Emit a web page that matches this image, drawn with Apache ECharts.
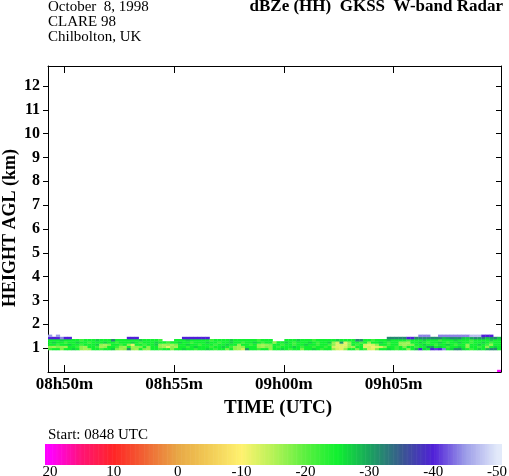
<!DOCTYPE html>
<html><head><meta charset="utf-8">
<script src="https://cdn.jsdelivr.net/npm/echarts@6/dist/echarts.min.js"></script>
<style>html,body{margin:0;padding:0;background:#fff}#c{width:509px;height:476px}</style>
</head><body><div id="c"></div>
<script>
const _ = null;
// time axis: minutes after 08:00 UTC
const timeStart = 49.25, timeEnd = 69.9, nCols = 115;
const gateKm = 0.092;
const rowHeights = [0.923, 1.015, 1.108, 1.200, 1.292, 1.385, 1.477];
const xTickValues = [50, 55, 60, 65];
const xTickLabels = ['08h50m', '08h55m', '09h00m', '09h05m'];
const yTickValues = [1, 2, 3, 4, 5, 6, 7, 8, 9, 10, 11, 12];
const cbarTicks = [20, 10, 0, -10, -20, -30, -40, -50];
const cmapValues = [-50, -45, -40, -35, -30, -25, -20, -15, -10, -5, 0, 5, 10, 15, 20];
const cmapColors = ['#e2eafa', '#9c9ce8', '#5020d8', '#3a5890', '#1aa45e', '#10f030', '#5af040', '#b4f256',
                    '#fff270', '#f2cc56', '#e8a846', '#f06634', '#ff2626', '#ff1474', '#ff00ff'];

// dBZe per row (bottom row first), one value per time column
const row0 = [-22,-25,-25,-18,-25,-25,-27,-25,-17,-16,
 -17,-25,-25,-22,-25,-25,-27,-18,-16,-17,
 -31,-17,-16,-25,-18,-17,-25,-25,-22,-25,
 -25,-18,-25,-25,-27,-25,-25,-22,-25,-25,
 -27,-25,-22,-25,-25,-18,-25,-17,-16,-13,
 -31,-25,-25,-22,-25,-25,-17,-25,-25,-27,
 -25,-22,-25,-25,-18,-25,-25,-27,-25,-22,
 -25,-25,-17,-13,-12,-17,-25,-25,-18,-25,
 -22,-13,-12,-18,-25,-25,-27,-25,-22,-25,
 -25,-17,-25,-29,-40,-27,-25,-40,-41,-40,
 -44,-25,-27,-32,-32,-27,-25,-22,-25,-27,
 -25,-29,-32,-32,-25];
const row1 = [-17,-16,-18,-17,-16,-25,-25,-22,-17,-16,
 -25,-25,-22,-16,-17,-25,-25,-22,-17,-16,
 -25,-16,-17,-18,-25,-17,-25,-25,-17,-16,
 -12,-17,-16,-25,-25,-22,-25,-27,-25,-25,
 -25,-22,-25,-25,-27,-25,-22,-17,-16,-17,
 -25,-25,-25,-17,-16,-18,-17,-25,-22,-25,
 -25,-25,-27,-25,-22,-25,-25,-22,-25,-25,
 -22,-25,-13,-12,-12,-13,-17,-16,-25,-25,
 -12,-13,-11,-12,-13,-17,-25,-25,-22,-25,
 -18,-25,-25,-22,-25,-25,-30,-31,-25,-27,
 -25,-22,-25,-25,-27,-25,-17,-25,-25,-22,
 -25,-17,-25,-27,-25];
const row2 = [-25,-25,-22,-25,-25,-27,-25,-25,-22,-25,
 -25,-25,-27,-17,-16,-18,-25,-25,-22,-25,
 -17,-12,-25,-25,-22,-25,-25,-27,-17,-16,
 -17,-16,-18,-25,-25,-27,-25,-25,-22,-25,
 -25,-25,-22,-25,-25,-27,-25,-25,-17,-25,
 -25,-22,-25,-17,-16,-17,-18,-25,-25,-22,
 -25,-25,-22,-25,-25,-27,-25,-25,-22,-25,
 -25,-22,-17,-12,-13,-12,-17,-25,-22,-25,
 -13,-12,-13,-17,-25,-25,-22,-25,-25,-17,
 -16,-17,-18,-25,-25,-27,-25,-25,-22,-25,
 -25,-27,-25,-22,-25,-25,-17,-25,-25,-27,
 -25,-22,-17,-25,-25];
const row3 = [-25,-27,-25,-25,-22,-25,-25,-27,-25,-25,
 -22,-25,-25,-25,-27,-25,-25,-22,-25,-25,
 -25,-27,-25,-22,-25,-25,-25,-27,-25,-25,
 -22,-25,-25,-27,-25,-25,-22,-25,-25,-25,
 -27,-25,-25,-22,-25,-25,-27,-25,-25,-22,
 -25,-25,-27,-25,-22,-25,-25,-17,-25,-25,
 -27,-25,-22,-25,-25,-25,-27,-25,-22,-25,
 -25,-27,-17,-13,-31,-12,-17,-25,-25,-22,
 -25,-17,-25,-25,-27,-25,-22,-25,-25,-17,
 -17,-16,-25,-25,-27,-25,-22,-25,-25,-27,
 -25,-22,-25,-25,-27,-25,-25,-22,-25,-25,
 -27,-25,-22,-25,-25];
const row4 = [-25,-25,-25,-27,-25,-25,-25,-25,-22,-25,
 -25,-25,-27,-25,-25,-25,-32,-25,-25,-25,
 -25,-25,-25,-27,-25,-25,-25,-25,-22,_,
 _,_,-25,-25,-25,-27,-25,-25,-25,-25,
 -25,-22,-25,-25,-25,-25,-27,-25,-25,-25,
 -25,-25,-25,-22,-25,-25,-25,_,_,_,
 -25,-25,-25,-27,-25,-25,-25,-22,-25,-25,
 -25,-25,-25,-27,-25,-25,-25,-25,-32,-31,
 -25,-25,-22,-25,-25,-25,-27,-25,-25,-25,
 -25,-22,-25,-25,-25,-27,-25,-25,-25,-22,
 -25,-25,-25,-27,-25,-25,-25,-22,-25,-25,
 -25,-25,-27,-25,-25];
const row5 = [-40,-40,-40,-44,-40,-40,_,_,_,_,
 _,_,_,_,_,_,_,_,_,_,
 -40,-40,-40,_,_,_,_,_,_,_,
 _,_,_,_,-40,-40,-40,-40,-40,-40,
 -40,_,_,_,_,_,_,_,_,_,
 _,_,_,_,_,_,_,_,_,_,
 _,_,_,_,_,_,_,_,_,_,
 _,_,_,_,_,_,_,_,_,_,
 _,_,_,_,_,_,-32,-32,-32,-32,
 -32,-40,-40,-32,-32,-32,-32,-32,-32,-32,
 -29,-30,-32,-31,-32,-28,-27,-30,-32,-31,
 -32,-28,-30,-32,-28];
const row6 = [-45,_,-45,_,_,_,_,_,_,_,
 _,_,_,_,_,_,_,_,_,_,
 _,_,_,_,_,_,_,_,_,_,
 _,_,_,_,_,_,_,_,_,_,
 _,_,_,_,_,_,_,_,_,_,
 _,_,_,_,_,_,_,_,_,_,
 _,_,_,_,_,_,_,_,_,_,
 _,_,_,_,_,_,_,_,_,_,
 _,_,_,_,_,_,_,_,_,_,
 _,_,_,_,-44,-44,-44,_,_,-44,
 -44,-44,-44,-44,-44,-44,-44,-47,-47,-47,
 -40,-40,-40,_,_];
// isolated near-ground echo
const surfaceCols = [114];
const surfaceHeights = [0.0];
const surfaceValues = [20];

const rows = [row0, row1, row2, row3, row4, row5, row6];
const dt = (timeEnd - timeStart) / nCols;

function hexToRgb(h) { return [parseInt(h.substr(1,2),16), parseInt(h.substr(3,2),16), parseInt(h.substr(5,2),16)]; }
const cmapRgb = cmapColors.map(hexToRgb);
function cmap(v) {
  if (v <= cmapValues[0]) return cmapColors[0];
  if (v >= cmapValues[cmapValues.length-1]) return cmapColors[cmapColors.length-1];
  for (let i = 0; i < cmapValues.length - 1; i++) {
    if (v <= cmapValues[i+1]) {
      const f = (v - cmapValues[i]) / (cmapValues[i+1] - cmapValues[i]);
      const a = cmapRgb[i], b = cmapRgb[i+1];
      return 'rgb(' + a.map((c, k) => Math.round(c + (b[k]-c)*f)).join(',') + ')';
    }
  }
}

const cells = [];
rows.forEach((r, ri) => r.forEach((v, ci) => { if (v !== null) cells.push([timeStart + ci*dt, rowHeights[ri], v]); }));
surfaceCols.forEach((c, i) => cells.push([timeStart + c*dt, surfaceHeights[i], surfaceValues[i]]));

const cbarData = [];
for (let v = -51; v <= 21; v += 0.2) cbarData.push([v]);

const serif = '"Liberation Serif", "DejaVu Serif", serif';
const chart = echarts.init(document.getElementById('c'), null, {renderer: 'canvas'});
const axisLineStyle = {show: true, onZero: false, lineStyle: {color: '#000', width: 1}};
chart.setOption({
  animation: false,
  backgroundColor: '#fff',
  grid: [
    {left: 48, right: 8, top: 66, bottom: 104, containLabel: false, outerBoundsMode: 'none'},
    {left: 45, right: 7, top: 444, bottom: 11, containLabel: false, outerBoundsMode: 'none'}
  ],
  xAxis: [
    {type: 'value', gridIndex: 0, min: timeStart, max: timeEnd, position: 'bottom',
     axisLine: axisLineStyle, splitLine: {show: false},
     axisTick: {show: true, inside: true, length: 7, customValues: xTickValues, lineStyle: {color: '#000'}},
     axisLabel: {show: true, customValues: xTickValues, margin: 4, color: '#000',
       fontFamily: serif, fontWeight: 'bold', fontSize: 17,
       formatter: v => xTickLabels[xTickValues.indexOf(Math.round(v))] || ''}},
    {type: 'value', gridIndex: 0, min: timeStart, max: timeEnd, position: 'top',
     axisLine: axisLineStyle, splitLine: {show: false},
     axisTick: {show: true, inside: true, length: 7, customValues: xTickValues, lineStyle: {color: '#000'}},
     axisLabel: {show: false}},
    {type: 'value', gridIndex: 1, min: -50.78, max: 20.78, inverse: true,
     axisLine: {show: false}, axisTick: {show: false}, splitLine: {show: false},
     axisLabel: {show: true, customValues: cbarTicks, margin: 0, color: '#000',
       fontFamily: serif, fontSize: 15, formatter: v => String(Math.round(v))}}
  ],
  yAxis: [
    {type: 'value', gridIndex: 0, min: 0, max: 12.84, position: 'left',
     axisLine: axisLineStyle, splitLine: {show: false},
     axisTick: {show: true, inside: false, length: 5, customValues: yTickValues, lineStyle: {color: '#000'}},
     axisLabel: {show: true, customValues: yTickValues, margin: 8, color: '#000', fontFamily: serif, fontWeight: 'bold', fontSize: 16,
       formatter: v => String(Math.round(v))}},
    {type: 'value', gridIndex: 0, min: 0, max: 12.84, position: 'right',
     axisLine: axisLineStyle, splitLine: {show: false},
     axisTick: {show: true, inside: true, length: 5, customValues: yTickValues, lineStyle: {color: '#000'}},
     axisLabel: {show: false}},
    {type: 'value', gridIndex: 1, min: 0, max: 1, show: false}
  ],
  series: [
    {type: 'custom', xAxisIndex: 0, yAxisIndex: 0, clip: true, data: cells,
     encode: {x: 0, y: 1},
     renderItem: (params, api) => {
       const t = api.value(0), h = api.value(1), v = api.value(2);
       const p0 = api.coord([t, h]);
       const p1 = api.coord([t + dt, h + gateKm]);
       return {type: 'rect',
         shape: {x: p0[0], y: p1[1], width: p1[0] - p0[0] + 0.3, height: p0[1] - p1[1] + 0.3},
         style: {fill: cmap(v)}};
     }},
    {type: 'custom', xAxisIndex: 2, yAxisIndex: 2, clip: true, data: cbarData,
     encode: {x: 0},
     renderItem: (params, api) => {
       const v = api.value(0);
       const a = api.coord([v, 0]);
       const b = api.coord([v + 0.2, 1]);
       const x0 = Math.min(a[0], b[0]), w = Math.abs(b[0] - a[0]) + 0.6;
       return {type: 'rect', shape: {x: x0 - 0.3, y: b[1], width: w, height: a[1] - b[1]},
         style: {fill: cmap(v + 0.1)}};
     }}
  ],
  graphic: [
    {type: 'text', x: 48, y: 7, style: {text: 'October  8, 1998', font: '15px ' + serif, fill: '#000', textAlign: 'left', textVerticalAlign: 'middle'}},
    {type: 'text', x: 48, y: 22, style: {text: 'CLARE 98', font: '15px ' + serif, fill: '#000', textAlign: 'left', textVerticalAlign: 'middle'}},
    {type: 'text', x: 48, y: 37, style: {text: 'Chilbolton, UK', font: '15px ' + serif, fill: '#000', textAlign: 'left', textVerticalAlign: 'middle'}},
    {type: 'text', x: 503, y: 7, style: {text: 'dBZe (HH)  GKSS  W-band Radar', font: 'bold 17px ' + serif, fill: '#000', textAlign: 'right', textVerticalAlign: 'middle'}},
    {type: 'text', x: 10, y: 228, rotation: Math.PI / 2, style: {text: 'HEIGHT AGL (km)', font: 'bold 18px ' + serif, fill: '#000', textAlign: 'center', textVerticalAlign: 'middle'}},
    {type: 'text', x: 278, y: 408, style: {text: 'TIME (UTC)', font: 'bold 19px ' + serif, fill: '#000', textAlign: 'center', textVerticalAlign: 'middle'}},
    {type: 'text', x: 48, y: 435, style: {text: 'Start: 0848 UTC', font: '15px ' + serif, fill: '#000', textAlign: 'left', textVerticalAlign: 'middle'}}
  ]
});
</script></body></html>
